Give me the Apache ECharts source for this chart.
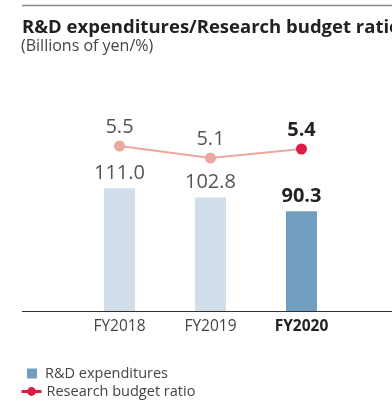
<!DOCTYPE html>
<html>
<head>
<meta charset="utf-8">
<script src="https://cdn.jsdelivr.net/npm/echarts@6/dist/echarts.min.js"></script>
<style>
  html, body { margin: 0; padding: 0; background: #fff; overflow: hidden; }
  #chart { width: 392px; height: 403px; }
</style>
</head>
<body>
<div id="chart"></div>
<script>
// Fiscal years and values
const years = ['FY2018', 'FY2019', 'FY2020'];
const rdExpenditures = [111.0, 102.8, 90.3];   // billions of yen
const budgetRatio = [5.5, 5.1, 5.4];           // %
const currentIndex = 2;                         // highlighted year

const FONT = '"Open Sans", "Noto Sans", sans-serif';
const barLight = '#d2dee9';
const barDark = '#729fbf';
const lineLight = '#eca79e';
const lineDark = '#dc1a47';

const chart = echarts.init(document.getElementById('chart'), null, { renderer: 'canvas' });

const barData = rdExpenditures.map((v, i) => ({
  value: v,
  itemStyle: { color: i === currentIndex ? barDark : barLight },
  label: i === currentIndex ? { fontWeight: 'bold', color: '#222' } : {}
}));

const lineData = budgetRatio.map((v, i) => ({
  value: v,
  itemStyle: { color: i === currentIndex ? lineDark : lineLight },
  label: i === currentIndex ? { fontWeight: 'bold', color: '#222' } : {}
}));

const legendText = { fontSize: 14.5, color: '#444', fontFamily: FONT };

chart.setOption({
  animation: false,
  textStyle: { fontFamily: FONT },
  title: [
    {
      text: 'R&D expenditures/Research budget ratio',
      left: 22, top: 18, padding: 0,
      textStyle: { fontSize: 18.5, fontWeight: 'bold', color: '#222', fontFamily: FONT }
    },
    {
      text: '(Billions of yen/%)',
      left: 21, top: 38, padding: 0,
      textStyle: { fontSize: 16, fontWeight: 'normal', color: '#444', fontFamily: FONT }
    }
  ],
  graphic: [
    { type: 'line', shape: { x1: 22, y1: 5.5, x2: 392, y2: 5.5 }, style: { stroke: '#8a8a8a', lineWidth: 1.5 } },
    { type: 'line', shape: { x1: 22, y1: 311.5, x2: 392, y2: 311.5 }, style: { stroke: '#333', lineWidth: 1 }, z: 10 }
  ],
  grid: { left: 74, width: 273, top: 111, bottom: 92, containLabel: false },
  legend: [
    {
      left: 27, top: 366, padding: 0,
      itemWidth: 10, itemHeight: 10,
      textStyle: Object.assign({ padding: [0, 0, 0, 3] }, legendText),
      data: [{ name: 'R&D expenditures', icon: 'rect', itemStyle: { color: barDark } }]
    },
    {
      left: 20, top: 384, padding: 0,
      itemWidth: 20, itemHeight: 11,
      textStyle: legendText,
      data: [{ name: 'Research budget ratio', itemStyle: { color: lineDark }, lineStyle: { color: lineDark, width: 3 } }]
    }
  ],
  xAxis: {
    type: 'category',
    data: years,
    axisLine: { show: false },
    axisTick: { show: false },
    axisLabel: {
      interval: 0,
      margin: 8,
      fontSize: 15.5,
      color: '#444',
      fontFamily: FONT,
      formatter: (v, i) => i === currentIndex ? '{b|' + v + '}' : v,
      rich: { b: { fontWeight: 'bold', color: '#222', fontSize: 15.5, fontFamily: FONT } }
    }
  },
  yAxis: [
    { type: 'value', min: 0, max: 181, show: false, splitLine: { show: false } },
    { type: 'value', min: 0, max: 6.667, show: false, splitLine: { show: false } }
  ],
  series: [
    {
      name: 'R&D expenditures',
      type: 'bar',
      yAxisIndex: 0,
      barWidth: 31,
      itemStyle: { color: barDark },
      data: barData,
      label: {
        show: true, position: 'top', distance: 5,
        fontSize: 20, color: '#555', fontFamily: FONT,
        formatter: p => p.value.toFixed(1)
      }
    },
    {
      name: 'Research budget ratio',
      type: 'line',
      yAxisIndex: 1,
      symbol: 'circle',
      symbolSize: 11,
      lineStyle: { color: lineLight, width: 2 },
      itemStyle: { color: lineDark },
      data: lineData,
      z: 5,
      label: {
        show: true, position: 'top', distance: 3,
        fontSize: 20, color: '#555', fontFamily: FONT,
        formatter: p => p.value.toFixed(1)
      }
    }
  ]
});
</script>
</body>
</html>
